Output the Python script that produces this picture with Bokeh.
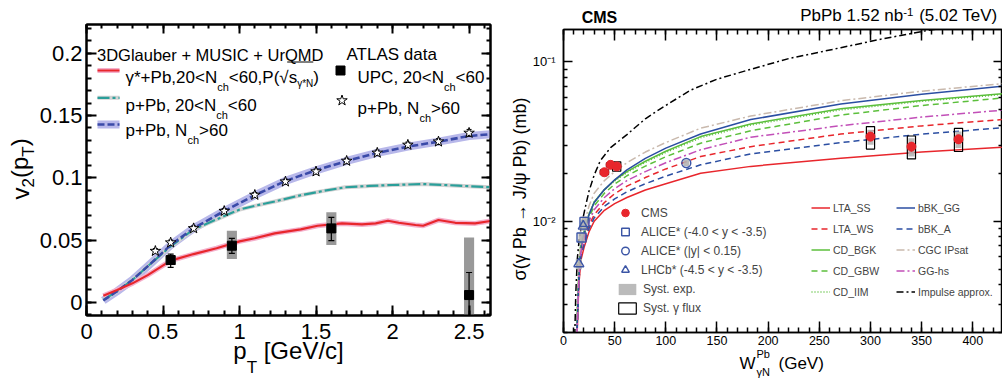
import numpy as np
from math import pi
from bokeh.plotting import figure
from bokeh.models import (Range1d, LinearAxis, LogAxis, Label, Legend, LegendItem,
                          FixedTicker, SingleIntervalTicker, CustomJSTickFormatter)
from bokeh.layouts import row
from bokeh.embed import file_html
from bokeh.resources import INLINE

FONT = "Liberation Sans"

# ======================= LEFT PANEL DATA (v2 vs pT) =======================
pt_gamma_pb = [0.11, 0.2, 0.3, 0.4, 0.55, 0.7, 0.85, 1.0, 1.1, 1.23, 1.4, 1.51, 1.67,
               1.8, 1.89, 1.97, 2.04, 2.15, 2.2, 2.3, 2.41, 2.54, 2.64]
v2_gamma_pb = [0.0053, 0.0099, 0.0153, 0.0219, 0.0335, 0.0388, 0.0435, 0.049, 0.0515,
               0.0554, 0.0586, 0.0615, 0.0634, 0.0626, 0.0634, 0.0655, 0.0639, 0.0621,
               0.0615, 0.0661, 0.0639, 0.0634, 0.0653]

pt_ppb_2060 = [0.11, 0.2, 0.3, 0.4, 0.55, 0.7, 0.9, 1.0, 1.1, 1.23, 1.4, 1.55, 1.69,
               1.85, 2.0, 2.2, 2.43, 2.64]
v2_ppb_2060 = [0.002, 0.009, 0.018, 0.029, 0.045, 0.0586, 0.0693, 0.0745, 0.0775, 0.081,
               0.086, 0.0895, 0.0924, 0.0935, 0.0942, 0.095, 0.0937, 0.0924]

pt_ppb_60 = [0.11, 0.2, 0.3, 0.4, 0.55, 0.7, 0.9, 1.1, 1.3, 1.5, 1.7, 1.9, 2.1, 2.3, 2.5, 2.64]
v2_ppb_60 = [0.0015, 0.009, 0.018, 0.029, 0.046, 0.0595, 0.0733, 0.086, 0.0975, 0.106,
             0.1135, 0.120, 0.125, 0.129, 0.1335, 0.135]

atlas_pt = [0.45, 0.55, 0.70, 0.90, 1.10, 1.30, 1.50, 1.70, 1.90, 2.10, 2.30, 2.50]
atlas_v2 = [0.0412, 0.048, 0.0594, 0.0733, 0.0862, 0.0969, 0.105, 0.1135, 0.120, 0.1264, 0.129, 0.136]
atlas_lo = [0.0392, 0.046, 0.0574, 0.0713, 0.0842, 0.0949, 0.103, 0.1113, 0.1178, 0.1242, 0.1266, 0.1332]
atlas_hi = [0.0432, 0.050, 0.0614, 0.0753, 0.0882, 0.0989, 0.107, 0.1157, 0.1222, 0.1286, 0.1314, 0.1388]

upc_pt = [0.55, 0.95, 1.6, 2.5]
upc_v2 = [0.034, 0.0455, 0.0594, 0.0059]
upc_stat_lo = [0.0281, 0.0394, 0.0495, -0.02]
upc_stat_hi = [0.0388, 0.0514, 0.0683, 0.024]
upc_sys_lo = [0.0300, 0.0348, 0.0460, -0.02]
upc_sys_hi = [0.0375, 0.0575, 0.0723, 0.052]

x_major_left = 0.5
y_major_left = 0.05

# ======================= RIGHT PANEL DATA (sigma vs W) =======================
W_model = [13, 15, 17, 20, 25, 30, 40, 50, 62, 80, 100, 134, 183, 271, 350, 430]
sig_lta_ss = [.0017, .0040, .0057, .0068, .0086, .0100, .0117, .0129, .0141, .0157, .0172, .0200, .0221, .0249, .0272, .0292]
sig_bbk_a = [.0018, .0042, .0060, .0071, .0090, .0105, .0124, .0138, .0153, .0172, .0192, .0226, .0265, .0312, .0352, .0387]
sig_lta_ws = [.0018, .0042, .0061, .0073, .0094, .0110, .0131, .0149, .0166, .0188, .0213, .0255, .0294, .0353, .0397, .0436]
sig_gg_hs = [.0019, .0044, .0064, .0077, .0100, .0118, .0141, .0160, .0180, .0205, .0233, .0281, .0337, .0398, .0451, .0499]
sig_cd_gbw = [.0020, .0046, .0067, .0081, .0105, .0125, .0150, .0171, .0193, .0222, .0254, .0309, .0370, .0464, .0533, .0595]
sig_cd_bgk = [.0022, .0050, .0072, .0086, .0111, .0132, .0158, .0181, .0205, .0238, .0275, .0340, .0408, .0508, .0574, .0634]
sig_cd_iim = [.0024, .0053, .0075, .0088, .0112, .0132, .0157, .0179, .0202, .0234, .0270, .0334, .0402, .0500, .0566, .0626]
sig_bbk_gg = [.0019, .0044, .0067, .0083, .0110, .0131, .0158, .0182, .0210, .0248, .0288, .0353, .0435, .0544, .0628, .0705]
sig_cgc = [.0019, .0049, .0076, .0095, .0125, .0150, .0180, .0205, .0233, .0272, .0312, .0384, .0458, .0571, .0656, .0733]

W_impulse = [11, 12, 13.5, 15, 17.5, 21.5, 25, 30, 36, 46, 62, 80, 95, 124, 150, 183, 220, 271, 310, 356, 400, 430]
sig_impulse = [0.0019, 0.0035, 0.0058, 0.0073, 0.0094, 0.0124, 0.0155, 0.0195, 0.0240, 0.0290, 0.0350,
               0.044, 0.051, 0.0665, 0.078, 0.090, 0.105, 0.123, 0.139, 0.158, 0.175, 0.185]

cms_W = [40, 46, 52, 300, 340, 386]
cms_sigma = [0.0203, 0.0226, 0.0221, 0.0340, 0.0294, 0.0327]
cms_stat_lo = [0.0195, 0.0218, 0.0214, 0.0318, 0.0274, 0.0306]
cms_stat_hi = [0.0211, 0.0234, 0.0228, 0.0363, 0.0315, 0.0349]
cms_sysexp_lo = [0.0190, 0.0212, 0.0208, 0.0302, 0.0255, 0.0288]
cms_sysexp_hi = [0.0216, 0.0240, 0.0234, 0.0375, 0.0332, 0.0366]
cms_flux_lo = [0.0196, 0.0219, 0.0206, 0.0284, 0.0246, 0.0274]
cms_flux_hi = [0.0210, 0.0233, 0.0236, 0.0393, 0.0343, 0.0383]

alice_fwd_W = [17.6, 20.5]
alice_fwd_sigma = [0.0079, 0.0099]
alice_fwd_sys_lo = [0.0073, 0.0092]
alice_fwd_sys_hi = [0.0085, 0.0107]
alice_mid_W = [120]
alice_mid_sigma = [0.0232]
alice_mid_sys_lo = [0.0222]
alice_mid_sys_hi = [0.0243]
lhcb_W = [15.0, 19.3]
lhcb_sigma = [0.0054, 0.0093]
lhcb_sys_lo = [0.0050, 0.0087]
lhcb_sys_hi = [0.0058, 0.0100]

y_major_right = [0.01, 0.1]
y_minor_right = [0.002, 0.003, 0.004, 0.005, 0.006, 0.007, 0.008, 0.009,
                 0.02, 0.03, 0.04, 0.05, 0.06, 0.07, 0.08, 0.09]

# ======================= helpers =======================
AW = {' ': .278, '(': .333, ')': .333, '*': .389, '+': .584, ',': .278, '-': .333, '.': .278,
      '/': .278, '<': .584, '>': .584, '[': .278, ']': .278, '|': .26,
      'A': .667, 'C': .722, 'D': .722, 'E': .667, 'G': .778, 'I': .278, 'J': .5, 'L': .556,
      'M': .833, 'N': .722, 'P': .667, 'Q': .778, 'S': .667, 'T': .611, 'U': .722, 'V': .667,
      'W': .944, 'a': .556, 'b': .556, 'c': .5, 'd': .556, 'e': .556, 'h': .556, 'l': .222,
      'm': .833, 'n': .556, 'p': .556, 'r': .333, 's': .5, 't': .278, 'u': .556, 'v': .5,
      'x': .5, 'y': .5, 'γ': .5, 'σ': .6, 'ψ': .7, '√': .55, '→': 1.0}


def tw(s, size):
    return sum(AW.get(c, 0.556) for c in s) * size


def add_text(p, x, y, text, size, bold=False, align="left", baseline="alphabetic", angle=0.0):
    p.add_layout(Label(x=x, y=y, text=text, text_font=FONT, text_font_size=f"{size}px",
                       text_font_style="bold" if bold else "normal", text_align=align,
                       text_baseline=baseline, angle=angle, text_color="black"))


def style_axis(ax, tin, minor_in, lw, size=None, standoff=5, hide=False):
    ax.axis_line_color = "black"
    ax.axis_line_width = lw
    ax.major_tick_in = tin
    ax.major_tick_out = 0
    ax.minor_tick_in = minor_in
    ax.minor_tick_out = 0
    ax.major_tick_line_color = "black"
    ax.minor_tick_line_color = "black"
    ax.major_tick_line_width = lw
    ax.minor_tick_line_width = lw
    if hide:
        ax.formatter = CustomJSTickFormatter(code="return ''")
        ax.major_label_text_font_size = "0px"
        ax.major_label_standoff = 0
    else:
        ax.major_label_text_font = FONT
        ax.major_label_text_font_size = size
        ax.major_label_standoff = standoff
        ax.major_label_text_color = "black"


def text_axis(p, side, pos, texts, size, standoff, bold=False, vertical=False, log=False):
    """Axis without line/ticks used only to place title text outside the frame."""
    order = sorted(range(len(pos)), key=lambda i: pos[i])
    ticker = FixedTicker(ticks=[pos[i] for i in order], minor_ticks=[])
    fmt = CustomJSTickFormatter(args=dict(labels=[texts[i] for i in order]), code="return labels[index];")
    ax = (LogAxis if log else LinearAxis)(ticker=ticker, formatter=fmt)
    ax.axis_line_color = None
    ax.major_tick_line_color = None
    ax.minor_tick_line_color = None
    ax.major_tick_in = 0
    ax.major_tick_out = 0
    ax.minor_tick_in = 0
    ax.minor_tick_out = 0
    ax.major_label_standoff = standoff
    ax.major_label_text_font = FONT
    ax.major_label_text_font_size = f"{size}px"
    ax.major_label_text_font_style = "bold" if bold else "normal"
    ax.major_label_text_color = "black"
    if vertical:
        ax.major_label_orientation = "vertical"
    p.add_layout(ax, side)


# ======================= LEFT FIGURE =======================
LX0, LX1, LY0, LY1 = 0.0, 2.64, -0.0105, 0.223
L = figure(width=500, height=380, x_range=Range1d(LX0, LX1), y_range=Range1d(LY0, LY1),
           output_backend="svg", toolbar_location=None, title=None,
           min_border_left=86, min_border_right=10, min_border_top=24, min_border_bottom=65)
L.frame_align = False
L.grid.visible = False
L.outline_line_color = "black"
L.outline_line_width = 2
L.background_fill_color = "white"
L.border_fill_color = "white"

xt_l = SingleIntervalTicker(interval=x_major_left, num_minor_ticks=5)
yt_l = SingleIntervalTicker(interval=y_major_left, num_minor_ticks=5)
fmt_l = CustomJSTickFormatter(code="return String(Math.round(tick*1000)/1000)")
L.xaxis[0].ticker = xt_l
L.yaxis[0].ticker = yt_l
L.xaxis[0].formatter = fmt_l
L.yaxis[0].formatter = fmt_l
style_axis(L.xaxis[0], 10, 5, 2, "22px", 8)
style_axis(L.yaxis[0], 10, 5, 2, "22px", 4)
ax_top = LinearAxis(ticker=xt_l)
style_axis(ax_top, 9, 4, 2, hide=True)
L.add_layout(ax_top, "above")
ax_right = LinearAxis(ticker=yt_l)
style_axis(ax_right, 9, 4, 2, hide=True)
L.add_layout(ax_right, "right")


def lx(px):  # page px -> data x (left panel)
    return LX0 + (px - 86) / 404 * (LX1 - LX0)


def ly(py):  # page px -> data y (left panel)
    return LY0 + (315 - py) / 291 * (LY1 - LY0)


RED = "#e8262c"
TEAL = "#2a9f9a"
BLUE = "#3a4aa8"

# curves
L.line(pt_ppb_60, v2_ppb_60, line_color="#b8b8ea", line_width=8)
L.line(pt_ppb_2060, v2_ppb_2060, line_color="#d2d2d2", line_width=4)
L.line(pt_gamma_pb, v2_gamma_pb, line_color="#f4b0cc", line_width=5)
L.line(pt_ppb_2060, v2_ppb_2060, line_color=TEAL, line_width=2.2, line_dash="12 3 3 3")
L.line(pt_ppb_60, v2_ppb_60, line_color=BLUE, line_width=2.6, line_dash="7 3")
L.line(pt_gamma_pb, v2_gamma_pb, line_color=RED, line_width=2.2)

# ATLAS p+Pb stars
L.segment(x0=atlas_pt, y0=atlas_lo, x1=atlas_pt, y1=atlas_hi, line_color="black", line_width=1)
L.scatter(atlas_pt, atlas_lo, marker="dash", size=5, line_color="black", line_width=1)
L.scatter(atlas_pt, atlas_hi, marker="dash", size=5, line_color="black", line_width=1)
L.scatter(atlas_pt, atlas_v2, marker="star", size=11, fill_color="white", line_color="black", line_width=1)

# ATLAS UPC squares
hw = 0.033
L.quad(left=[x - hw for x in upc_pt], right=[x + hw for x in upc_pt], bottom=upc_sys_lo, top=upc_sys_hi,
       fill_color="#999999", line_color=None)
L.segment(x0=upc_pt, y0=upc_stat_lo, x1=upc_pt, y1=upc_stat_hi, line_color="black", line_width=1.2)
L.scatter(upc_pt, upc_stat_lo, marker="dash", size=6, line_color="black", line_width=1.2)
L.scatter(upc_pt, upc_stat_hi, marker="dash", size=6, line_color="black", line_width=1.2)
L.scatter(upc_pt, upc_v2, marker="square", size=9, fill_color="black", line_color="black")

# legend keys (left panel)
L.line([lx(97), lx(119)], [ly(70), ly(70)], line_color="#f4b0cc", line_width=5)
L.line([lx(97), lx(119)], [ly(70), ly(70)], line_color=RED, line_width=2.2)
L.line([lx(97), lx(119)], [ly(97.3), ly(97.3)], line_color="#d2d2d2", line_width=4)
L.line([lx(97), lx(119)], [ly(97.3), ly(97.3)], line_color=TEAL, line_width=2.2, line_dash="12 3 3 3")
L.line([lx(97), lx(119)], [ly(124), ly(124)], line_color="#b8b8ea", line_width=8)
L.line([lx(97), lx(119)], [ly(124), ly(124)], line_color=BLUE, line_width=2.6, line_dash="7 3")
L.scatter([lx(340)], [ly(70)], marker="square", size=9, fill_color="black", line_color="black")
L.scatter([lx(341.5)], [ly(100)], marker="star", size=11, fill_color="white", line_color="black")


def pieces_h(p, cx, cy, x0, base, parts):
    x = x0
    for t, s, dy in parts:
        add_text(p, cx(x), cy(base + dy), t, s)
        x += tw(t, s)
    return x


add_text(L, lx(96.5), ly(54), "3DGlauber + MUSIC + UrQMD", 16.5)
add_text(L, lx(346), ly(54), "ATLAS data", 17)
row1 = [("γ*+Pb,20<N", 17, 0), ("ch", 11, 9), ("<60,P(", 17, 0), ("√", 17, 0),
        ("s", 17, 0), ("γ*N", 10, 6), (")", 17, 0)]
pieces_h(L, lx, ly, 125, 77, row1)
# radical overline over s_{γ*N}
x_bar0 = 125 + sum(tw(t, s) for t, s, _ in row1[:4]) - 1.5
x_bar1 = x_bar0 + 1.5 + tw("s", 17) + tw("γ*N", 10)
L.line([lx(x_bar0), lx(x_bar1)], [ly(61.5), ly(61.5)], line_color="black", line_width=1)
pieces_h(L, lx, ly, 125, 105, [("p+Pb, 20<N", 17, 0), ("ch", 11, 9), ("<60", 17, 0)])
pieces_h(L, lx, ly, 125, 130, [("p+Pb, N", 17, 0), ("ch", 11, 9), (">60", 17, 0)])
pieces_h(L, lx, ly, 357, 77, [("UPC, 20<N", 17, 0), ("ch", 11, 9), ("<60", 17, 0)])
pieces_h(L, lx, ly, 357, 108, [("p+Pb, N", 17, 0), ("ch", 11, 9), (">60", 17, 0)])

# axis titles (left) as text-only axes outside the frame
x0 = 232.8
c_p = x0 + tw("p", 24) / 2
c_T = x0 + tw("p", 24) + tw("T", 17) / 2
x_rest = x0 + tw("p", 24) + tw("T", 17) + tw(" ", 24)
c_rest = x_rest + tw("[GeV/c]", 24) / 2
text_axis(L, "below", [lx(c_p), lx(c_rest)], ["p", "[GeV/c]"], 24, -5)
text_axis(L, "below", [lx(c_T)], ["T"], 17, -9)

ycur = 199
main_pos, main_txt, sub_pos, sub_txt = [], [], [], []
for t, s, is_sub in [("v", 24, 0), ("2", 17, 1), ("(", 24, 0), ("p", 24, 0), ("T", 17, 1), (")", 24, 0)]:
    w = tw(t, s)
    c = ycur - w / 2
    if is_sub:
        sub_pos.append(ly(c)); sub_txt.append(t)
    else:
        main_pos.append(ly(c)); main_txt.append(t)
    ycur -= w
text_axis(L, "left", sub_pos, sub_txt, 17, -2, vertical=True)
text_axis(L, "left", main_pos, main_txt, 24, -17, vertical=True)

# ======================= RIGHT FIGURE =======================
RX0, RX1, RY0, RY1 = 0.0, 429.0, 0.002, 0.16
R = figure(width=502, height=380, x_range=Range1d(RX0, RX1), y_range=Range1d(RY0, RY1),
           y_axis_type="log", output_backend="svg", toolbar_location=None, title=None,
           min_border_left=63, min_border_right=0, min_border_top=29, min_border_bottom=47)
R.frame_align = False
R.grid.visible = False
R.outline_line_color = "black"
R.outline_line_width = 1.5
R.background_fill_color = "white"
R.border_fill_color = "white"

xt_r = SingleIntervalTicker(interval=50, num_minor_ticks=5)
yt_r = FixedTicker(ticks=y_major_right, minor_ticks=y_minor_right)
R.xaxis[0].ticker = xt_r
R.yaxis[0].ticker = yt_r
R.yaxis[0].formatter = CustomJSTickFormatter(
    code="const e = Math.round(Math.log10(tick)); const m = {'-1': '\u207b\u00b9', '-2': '\u207b\u00b2', '-3': '\u207b\u00b3'}; return '10' + m[String(e)];")
style_axis(R.xaxis[0], 11, 5, 1.5, "12.5px", 3)
style_axis(R.yaxis[0], 9, 4, 1.5, "13px", 8)
rtop = LinearAxis(ticker=xt_r)
style_axis(rtop, 11, 5, 1.5, hide=True)
R.add_layout(rtop, "above")
rright = LogAxis(ticker=yt_r)
style_axis(rright, 9, 4, 1.5, hide=True)
R.add_layout(rright, "right")


def rx(px):  # page px -> W
    return RX0 + (px - 563) / 439 * (RX1 - RX0)


def ry(py):  # page px -> sigma (log)
    l0, l1 = np.log10(RY0), np.log10(RY1)
    return float(10 ** (l1 - (py - 29) / 304 * (l1 - l0)))


C_RED = "#e8262c"
C_GREEN = "#5cbf3c"
C_BLUE = "#2b4ea2"
C_TAN = "#c9b9ad"
C_MAG = "#c24fb8"

r_ss = R.line(W_model, sig_lta_ss, line_color=C_RED, line_width=1.5)
r_ws = R.line(W_model, sig_lta_ws, line_color=C_RED, line_width=1.5, line_dash="6 4")
r_bgk = R.line(W_model, sig_cd_bgk, line_color=C_GREEN, line_width=1.5)
r_gbw = R.line(W_model, sig_cd_gbw, line_color=C_GREEN, line_width=1.5, line_dash="6 4")
r_iim = R.line(W_model, sig_cd_iim, line_color=C_GREEN, line_width=1.5, line_dash="1 2")
r_gg = R.line(W_model, sig_bbk_gg, line_color=C_BLUE, line_width=1.5)
r_ba = R.line(W_model, sig_bbk_a, line_color=C_BLUE, line_width=1.5, line_dash="6 4")
r_cgc = R.line(W_model, sig_cgc, line_color=C_TAN, line_width=1.5, line_dash="8 3 2 3")
r_hs = R.line(W_model, sig_gg_hs, line_color=C_MAG, line_width=1.5, line_dash="8 3 2 3")
r_imp = R.line(W_impulse, sig_impulse, line_color="black", line_width=1.5, line_dash="7 3 2 3")

# systematic boxes
hwe, hwf = 3.0, 4.0
all_W = cms_W + alice_fwd_W + alice_mid_W + lhcb_W
all_lo = cms_sysexp_lo + alice_fwd_sys_lo + alice_mid_sys_lo + lhcb_sys_lo
all_hi = cms_sysexp_hi + alice_fwd_sys_hi + alice_mid_sys_hi + lhcb_sys_hi
r_sysexp = R.quad(left=[w - hwe for w in all_W], right=[w + hwe for w in all_W], bottom=all_lo, top=all_hi,
                  fill_color="#b4b4b4", fill_alpha=0.9, line_color=None)
r_flux = R.quad(left=[w - hwf for w in cms_W], right=[w + hwf for w in cms_W], bottom=cms_flux_lo,
                top=cms_flux_hi, fill_alpha=0, line_color="black", line_width=1.2)
R.segment(x0=cms_W, y0=cms_stat_lo, x1=cms_W, y1=cms_stat_hi, line_color=C_RED, line_width=1.5)

r_cms = R.scatter(cms_W, cms_sigma, marker="circle", size=9, fill_color=C_RED, line_color=C_RED)
MB = "#3b55a5"
r_alf = R.scatter(alice_fwd_W, alice_fwd_sigma, marker="square", size=9, fill_alpha=0,
                  line_color=MB, line_width=1.4)
r_alm = R.scatter(alice_mid_W, alice_mid_sigma, marker="circle", size=9, fill_alpha=0,
                  line_color=MB, line_width=1.4)
r_lhcb = R.scatter(lhcb_W, lhcb_sigma, marker="triangle", size=10, fill_alpha=0,
                   line_color=MB, line_width=1.4)


def mk_legend(items, loc, gw, gh, sp, so, fs):
    return Legend(items=[LegendItem(label=t, renderers=[r]) for t, r in items], location=loc,
                  glyph_width=gw, glyph_height=gh, label_height=gh, label_width=10, spacing=sp,
                  padding=0, margin=0, label_standoff=so, label_text_font=FONT,
                  label_text_font_size=fs, background_fill_alpha=0, border_line_alpha=0)


R.add_layout(mk_legend([("CMS", r_cms), ("ALICE* (-4.0 < y < -3.5)", r_alf),
                        ("ALICE* (|y| < 0.15)", r_alm), ("LHCb* (-4.5 < y < -3.5)", r_lhcb)],
                       (52, 53), 20, 19, 0, 6, "12px"))
R.add_layout(mk_legend([("Syst. exp.", r_sysexp), ("Syst. γ flux", r_flux)],
                       (53, 17), 22, 14, 5, 5, "12px"))
R.add_layout(mk_legend([("LTA_SS", r_ss), ("LTA_WS", r_ws), ("CD_BGK", r_bgk), ("CD_GBW", r_gbw),
                        ("CD_IIM", r_iim)], (248, 30), 19, 21, 0, 3, "10.5px"))
R.add_layout(mk_legend([("bBK_GG", r_gg), ("bBK_A", r_ba), ("CGC IPsat", r_cgc), ("GG-hs", r_hs),
                        ("Impulse approx.", r_imp)], (333, 30), 19, 21, 0, 3, "10.5px"))

# header texts (above the frame)
text_axis(R, "above", [rx(599)], ["CMS"], 16, 4, bold=True)
t_end = 998
w3 = tw("(5.02 TeV)", 17)
s3 = t_end - w3
w2 = tw("-1", 11.5)
s2 = s3 - tw(" ", 17) - w2
w1 = tw("PbPb 1.52 nb", 17)
s1 = s2 - w1
text_axis(R, "above", [rx(s1 + w1 / 2), rx(s3 + w3 / 2)], ["PbPb 1.52 nb", "(5.02 TeV)"], 17, -19)
text_axis(R, "above", [rx(s2 + w2 / 2)], ["-1"], 11.5, -13)

# x title (below the frame)
text_axis(R, "below", [rx(762.7)], ["Pb"], 11, 0)
text_axis(R, "below", [rx(747), rx(778 + tw("(GeV)", 17) / 2)], ["W", "(GeV)"], 17, -9)
text_axis(R, "below", [rx(762.7)], ["γN"], 11, -10)

# y title (left of the frame)
text_axis(R, "left", [ry(189)], ["σ(γ Pb → J/ψ Pb) (mb)"], 18, -1, vertical=True, log=True)

layout = row(L, R)
with open("out.html", "w", encoding="utf-8") as f:
    f.write(file_html(layout, INLINE))
